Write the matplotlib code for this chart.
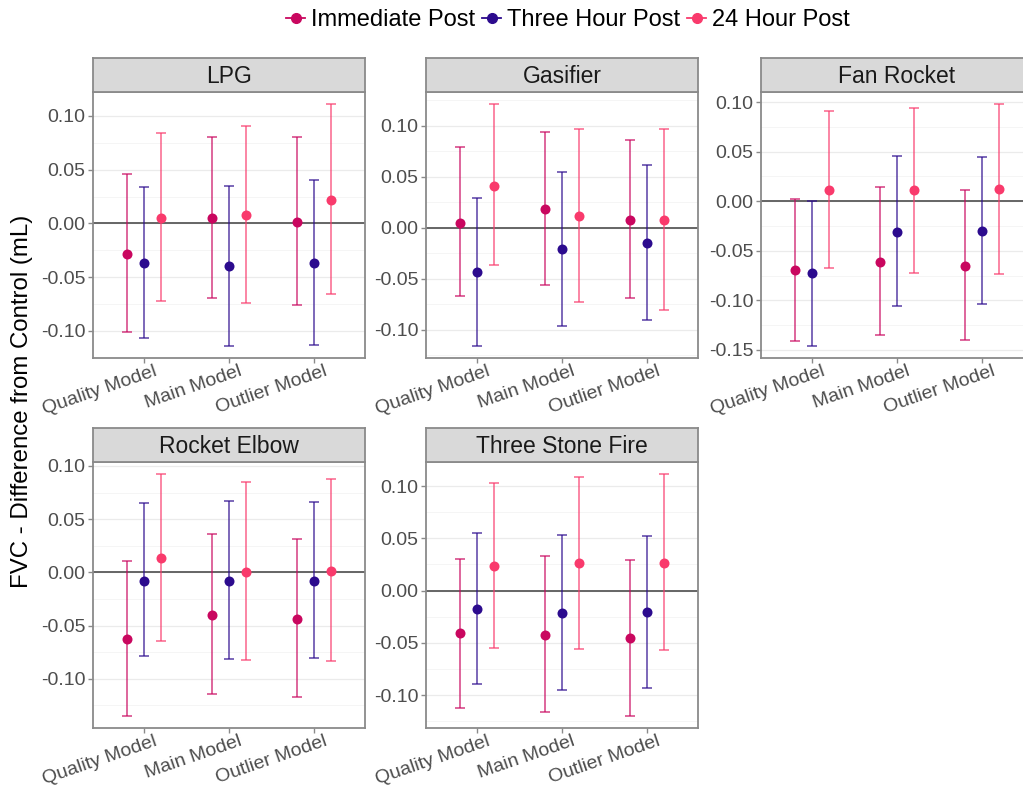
import matplotlib
matplotlib.use("Agg")
import matplotlib.pyplot as plt
from matplotlib.lines import Line2D
from matplotlib.ticker import MultipleLocator, FuncFormatter
import matplotlib.transforms as mtransforms
import numpy as np

plt.rcParams['font.family'] = ['Liberation Sans', 'DejaVu Sans']

models = ["Quality Model", "Main Model", "Outlier Model"]
timepoints = ["Immediate Post", "Three Hour Post", "24 Hour Post"]
colors = ["#C9075F", "#2C0B8E", "#F93A6C"]
stoves = ["LPG", "Gasifier", "Fan Rocket", "Rocket Elbow", "Three Stone Fire"]

# rows: timepoint, columns: model
lpg_est = [[-0.0285, 0.0050, 0.0015], [-0.0365, -0.0400, -0.0370], [0.0050, 0.0080, 0.0217]]
lpg_lo = [[-0.1015, -0.0690, -0.0760], [-0.1065, -0.1140, -0.1135], [-0.0720, -0.0740, -0.0660]]
lpg_hi = [[0.0455, 0.0800, 0.0800], [0.0340, 0.0350, 0.0400], [0.0840, 0.0910, 0.1110]]

gas_est = [[0.0046, 0.0180, 0.0075], [-0.0440, -0.0215, -0.0150], [0.0410, 0.0117, 0.0075]]
gas_lo = [[-0.0670, -0.0560, -0.0690], [-0.1160, -0.0960, -0.0910], [-0.0370, -0.0726, -0.0810]]
gas_hi = [[0.0790, 0.0935, 0.0857], [0.0287, 0.0540, 0.0610], [0.1210, 0.0970, 0.0970]]

fan_est = [[-0.0697, -0.0610, -0.0650], [-0.0727, -0.0310, -0.0305], [0.0110, 0.0110, 0.0120]]
fan_lo = [[-0.1410, -0.1347, -0.1397], [-0.1460, -0.1055, -0.1035], [-0.0677, -0.0720, -0.0734]]
fan_hi = [[0.0023, 0.0144, 0.0110], [0.0007, 0.0452, 0.0442], [0.0915, 0.0945, 0.0980]]

elbow_est = [[-0.0624, -0.0396, -0.0437], [-0.0081, -0.0081, -0.0081], [0.0134, 0.0006, 0.0016]]
elbow_lo = [[-0.1348, -0.1139, -0.1173], [-0.0790, -0.0817, -0.0805], [-0.0646, -0.0820, -0.0830]]
elbow_hi = [[0.0103, 0.0356, 0.0318], [0.0650, 0.0668, 0.0658], [0.0923, 0.0845, 0.0877]]

tsf_est = [[-0.0406, -0.0422, -0.0454], [-0.0175, -0.0213, -0.0203], [0.0238, 0.0260, 0.0263]]
tsf_lo = [[-0.1117, -0.1159, -0.1197], [-0.0892, -0.0949, -0.0927], [-0.0549, -0.0562, -0.0568]]
tsf_hi = [[0.0305, 0.0330, 0.0292], [0.0552, 0.0533, 0.0527], [0.1029, 0.1086, 0.1114]]

panel_data = [
    (lpg_est, lpg_lo, lpg_hi),
    (gas_est, gas_lo, gas_hi),
    (fan_est, fan_lo, fan_hi),
    (elbow_est, elbow_lo, elbow_hi),
    (tsf_est, tsf_lo, tsf_hi),
]

W, H = 1023, 788
fig = plt.figure(figsize=(W / 100, H / 100), dpi=100)
fig.patch.set_facecolor("white")

col_left = [93, 426, 761]
panel_w = 272
row_top = [92, 462]
panel_h = 266
strip_h = 34

border = "#8A8A8A"
tick_grey = "#4D4D4D"
dodge = 0.2


def fmt(v, pos):
    s = f"{v:.2f}"
    return "0.00" if s in ("-0.00", "0.00") else s


for i, (name, (est, lo, hi)) in enumerate(zip(stoves, panel_data)):
    r, c = divmod(i, 3)
    x0 = col_left[c]
    y0 = row_top[r]
    ax = fig.add_axes([x0 / W, 1 - (y0 + panel_h) / H, panel_w / W, panel_h / H])
    sax = fig.add_axes([x0 / W, 1 - y0 / H, panel_w / W, strip_h / H])

    # facet strip
    sax.set_facecolor("#D9D9D9")
    sax.set_xticks([])
    sax.set_yticks([])
    for sp in sax.spines.values():
        sp.set_color(border)
        sp.set_linewidth(1.3)
    sax.text(0.5, 0.47, name, ha="center", va="center", fontsize=16.5,
             color="#1A1A1A", transform=sax.transAxes)

    est = np.array(est)
    lo = np.array(lo)
    hi = np.array(hi)
    dmin, dmax = lo.min(), hi.max()
    pad = 0.05 * (dmax - dmin)
    ax.set_ylim(dmin - pad, dmax + pad)
    ax.set_xlim(0.4, 3.6)

    ax.yaxis.set_major_locator(MultipleLocator(0.05))
    ax.yaxis.set_minor_locator(MultipleLocator(0.025))
    ax.yaxis.set_major_formatter(FuncFormatter(fmt))
    ax.grid(True, which="major", axis="y", color="#EBEBEB", lw=0.9, zorder=0)
    ax.grid(True, which="minor", axis="y", color="#F4F4F4", lw=0.6, zorder=0)
    ax.set_axisbelow(True)

    ax.axhline(0, color="#5A5A5A", lw=1.3, zorder=1)

    xs = np.arange(1, len(models) + 1)
    for k, (tp, col) in enumerate(zip(timepoints, colors)):
        xp = xs + (k - 1) * dodge
        e = est[k]
        ax.errorbar(xp, e, yerr=[e - lo[k], hi[k] - e], fmt="none",
                    ecolor=col, elinewidth=1.2, capsize=3.9, capthick=1.2,
                    alpha=0.72, zorder=2)
        ax.plot(xp, e, "o", color=col, markersize=7.2, zorder=3,
                markeredgewidth=0)

    ax.set_xticks(xs)
    ax.set_xticklabels(models)
    ax.tick_params(axis="both", which="major", length=3.5, width=1.0,
                   color=border, labelcolor=tick_grey, labelsize=14, pad=2)
    ax.tick_params(axis="y", which="minor", length=0)
    offset = mtransforms.ScaledTranslation(10 / 100, 3 / 100, fig.dpi_scale_trans)
    for lab in ax.get_xticklabels():
        lab.set_rotation(19)
        lab.set_ha("right")
        lab.set_va("top")
        lab.set_rotation_mode("anchor")
        lab.set_fontsize(14)
        lab.set_transform(lab.get_transform() + offset)

    for sp in ax.spines.values():
        sp.set_color(border)
        sp.set_linewidth(1.3)

fig.text(22 / W, 1 - 401 / H, "FVC - Difference from Control (mL)",
         rotation=90, ha="center", va="center", fontsize=17.3, color="black")

handles = [Line2D([0], [0], color=col, marker="o", markersize=7, lw=1.3)
           for col in colors]
fig.legend(handles, timepoints, loc="center", bbox_to_anchor=(568 / W, 1 - 20 / H),
           ncol=3, frameon=False, fontsize=17, handlelength=0.8,
           handletextpad=0.25, columnspacing=0.3)

fig.savefig("out.png", dpi=100, facecolor="white")
